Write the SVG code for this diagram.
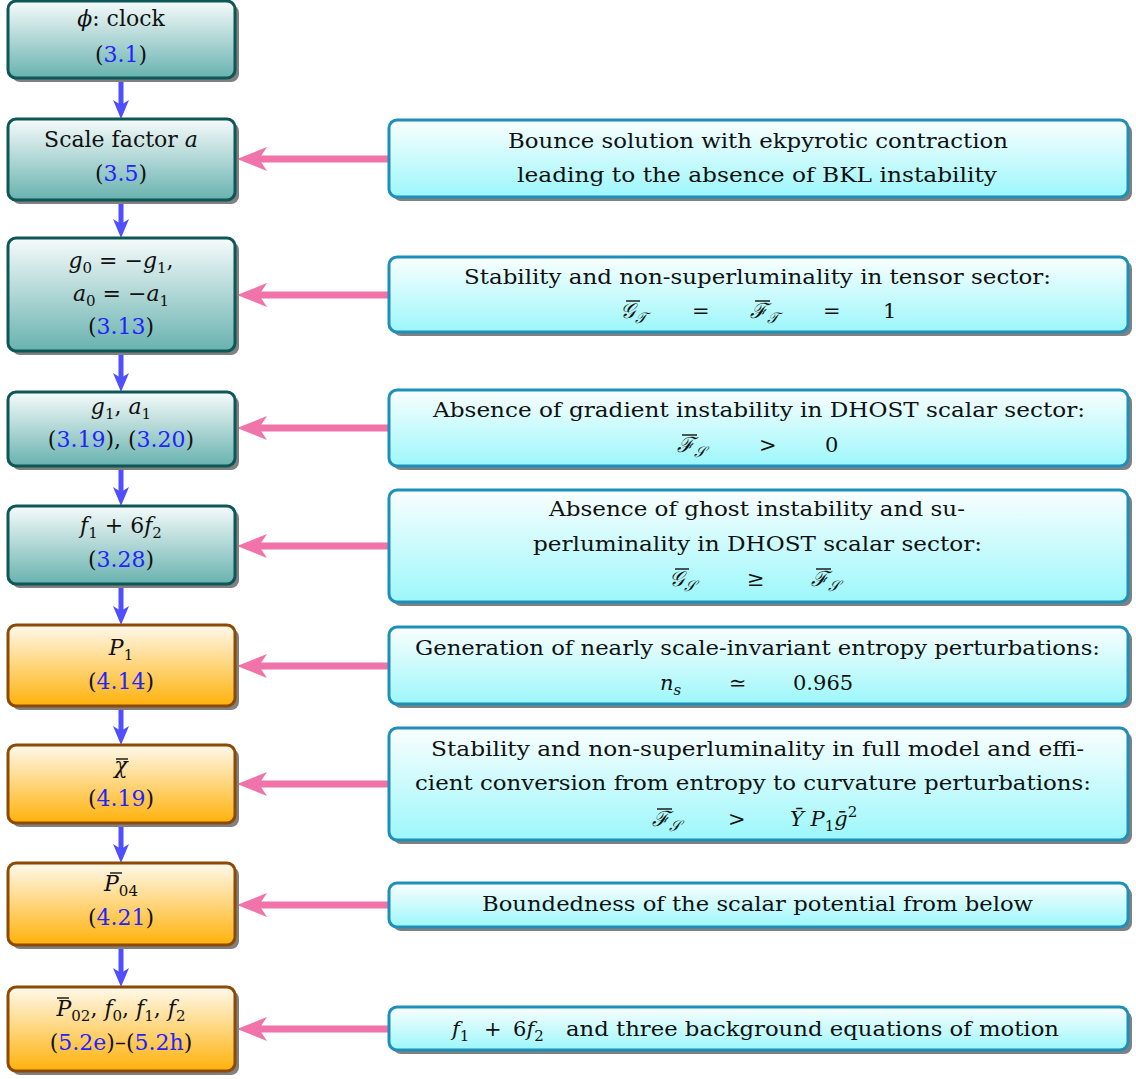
<svg xmlns="http://www.w3.org/2000/svg" width="1136" height="1079" viewBox="0 0 1136 1079">
<style>
text{font-family:"DejaVu Serif",serif;font-size:21px;fill:#111;}
.c{text-anchor:middle;font-size:22px;}
.i{font-style:italic;}
.s{font-size:15px;}
.ref{fill:#2323ff;}
.sh{fill:#808080;}
.lt{fill:url(#gTeal);stroke:#0e5757;stroke-width:3;}
.lo{fill:url(#gOrange);stroke:#8c4a05;stroke-width:3;}
.rb{fill:url(#gCyan);stroke:#1d8fb8;stroke-width:3;}
.blue{stroke:#4f4fff;stroke-width:5;fill:none;}
.pink{stroke:#f073aa;stroke-width:7;fill:none;}
.bar{stroke:#111;stroke-width:1.4;}
</style>
<defs>
<linearGradient id="gTeal" x1="0" y1="0" x2="0" y2="1"><stop offset="0" stop-color="#f6fbfb"/><stop offset="1" stop-color="#68b2af"/></linearGradient>
<linearGradient id="gOrange" x1="0" y1="0" x2="0" y2="1"><stop offset="0" stop-color="#fff9ec"/><stop offset="1" stop-color="#ffb10a"/></linearGradient>
<linearGradient id="gCyan" x1="0" y1="0" x2="0" y2="1"><stop offset="0" stop-color="#fafefe"/><stop offset="1" stop-color="#9cf7fb"/></linearGradient>
<marker id="mb" markerUnits="userSpaceOnUse" markerWidth="22" markerHeight="20" viewBox="0 -10 22 20" refX="6" refY="0" orient="auto"><path d="M19,0 L0,-8 L5,0 L0,8 Z" fill="#4f4fff"/></marker>
<marker id="mp" markerUnits="userSpaceOnUse" markerWidth="32" markerHeight="28" viewBox="0 -14 32 28" refX="10" refY="0" orient="auto"><path d="M30,0 L0,-12 L8,0 L0,12 Z" fill="#f073aa"/></marker>
</defs>

<g id="connectors">
<path class="blue" d="M121,78 V106" marker-end="url(#mb)"/>
<path class="blue" d="M121,200 V225" marker-end="url(#mb)"/>
<path class="blue" d="M121,351 V379" marker-end="url(#mb)"/>
<path class="blue" d="M121,466 V493" marker-end="url(#mb)"/>
<path class="blue" d="M121,584 V612" marker-end="url(#mb)"/>
<path class="blue" d="M121,706 V732" marker-end="url(#mb)"/>
<path class="blue" d="M121,823 V850" marker-end="url(#mb)"/>
<path class="blue" d="M121,945 V974" marker-end="url(#mb)"/>
<path class="pink" d="M389,159 H257" marker-end="url(#mp)"/>
<path class="pink" d="M389,295 H257" marker-end="url(#mp)"/>
<path class="pink" d="M389,428 H257" marker-end="url(#mp)"/>
<path class="pink" d="M389,546 H257" marker-end="url(#mp)"/>
<path class="pink" d="M389,666 H257" marker-end="url(#mp)"/>
<path class="pink" d="M389,784 H257" marker-end="url(#mp)"/>
<path class="pink" d="M389,905 H257" marker-end="url(#mp)"/>
<path class="pink" d="M389,1029 H257" marker-end="url(#mp)"/>
</g>

<g id="n1"><rect class="sh" x="12" y="5" width="227" height="77" rx="8"/><rect class="lt" x="8" y="1" width="227" height="77" rx="8"/>
<text class="c" x="121" y="26"><tspan class="i">ϕ</tspan>:  clock</text>
<text class="c" x="121" y="62">(<tspan class="ref">3.1</tspan>)</text></g>

<g id="n2"><rect class="sh" x="12" y="123" width="227" height="81" rx="8"/><rect class="lt" x="8" y="119" width="227" height="81" rx="8"/>
<text class="c" x="121" y="147">Scale factor <tspan class="i">a</tspan></text>
<text class="c" x="121" y="181">(<tspan class="ref">3.5</tspan>)</text></g>

<g id="n3"><rect class="sh" x="12" y="242" width="227" height="113" rx="8"/><rect class="lt" x="8" y="238" width="227" height="113" rx="8"/>
<text class="c" x="121" y="268"><tspan class="i">g</tspan><tspan class="s" dy="5">0</tspan><tspan dy="-5">  =  −</tspan><tspan class="i">g</tspan><tspan class="s" dy="5">1</tspan><tspan dy="-5">,</tspan></text>
<text class="c" x="121" y="301"><tspan class="i">a</tspan><tspan class="s" dy="5">0</tspan><tspan dy="-5">  =  −</tspan><tspan class="i">a</tspan><tspan class="s" dy="5">1</tspan></text>
<text class="c" x="121" y="334">(<tspan class="ref">3.13</tspan>)</text></g>

<g id="n4"><rect class="sh" x="12" y="396" width="227" height="74" rx="8"/><rect class="lt" x="8" y="392" width="227" height="74" rx="8"/>
<text class="c" x="121" y="414"><tspan class="i">g</tspan><tspan class="s" dy="5">1</tspan><tspan dy="-5">, </tspan><tspan class="i">a</tspan><tspan class="s" dy="5">1</tspan></text>
<text class="c" x="121" y="447">(<tspan class="ref">3.19</tspan>), (<tspan class="ref">3.20</tspan>)</text></g>

<g id="n5"><rect class="sh" x="12" y="510" width="227" height="78" rx="8"/><rect class="lt" x="8" y="506" width="227" height="78" rx="8"/>
<text class="c" x="121" y="533"><tspan class="i">f</tspan><tspan class="s" dy="5">1</tspan><tspan dy="-5"> + 6</tspan><tspan class="i">f</tspan><tspan class="s" dy="5">2</tspan></text>
<text class="c" x="121" y="567">(<tspan class="ref">3.28</tspan>)</text></g>

<g id="n6"><rect class="sh" x="12" y="629" width="227" height="81" rx="8"/><rect class="lo" x="8" y="625" width="227" height="81" rx="8"/>
<text class="c" x="121" y="655"><tspan class="i">P</tspan><tspan class="s" dy="5">1</tspan></text>
<text class="c" x="121" y="689">(<tspan class="ref">4.14</tspan>)</text></g>

<g id="n7"><rect class="sh" x="12" y="749" width="227" height="78" rx="8"/><rect class="lo" x="8" y="745" width="227" height="78" rx="8"/>
<text class="c i" x="121" y="773">χ</text>
<line class="bar" x1="116" y1="759" x2="128" y2="759"/>
<text class="c" x="121" y="806">(<tspan class="ref">4.19</tspan>)</text></g>

<g id="n8"><rect class="sh" x="12" y="867" width="227" height="82" rx="8"/><rect class="lo" x="8" y="863" width="227" height="82" rx="8"/>
<text class="c" x="121" y="891"><tspan class="i">P</tspan><tspan class="s" dy="5">04</tspan></text>
<line class="bar" x1="110" y1="873" x2="122" y2="873"/>
<text class="c" x="121" y="925">(<tspan class="ref">4.21</tspan>)</text></g>

<g id="n9"><rect class="sh" x="12" y="991" width="227" height="84" rx="8"/><rect class="lo" x="8" y="987" width="227" height="84" rx="8"/>
<text class="c" x="121" y="1016"><tspan class="i">P</tspan><tspan class="s" dy="5">02</tspan><tspan dy="-5">, </tspan><tspan class="i">f</tspan><tspan class="s" dy="5">0</tspan><tspan dy="-5">, </tspan><tspan class="i">f</tspan><tspan class="s" dy="5">1</tspan><tspan dy="-5">, </tspan><tspan class="i">f</tspan><tspan class="s" dy="5">2</tspan></text>
<line class="bar" x1="57" y1="998" x2="69" y2="998"/>
<text class="c" x="121" y="1050">(<tspan class="ref">5.2e</tspan>)–(<tspan class="ref">5.2h</tspan>)</text></g>

<g id="r1"><rect class="sh" x="393" y="124" width="739" height="77" rx="8"/><rect class="rb" x="389" y="120" width="739" height="77" rx="8"/>
<text x="508" y="148" textLength="500" lengthAdjust="spacingAndGlyphs">Bounce solution with ekpyrotic contraction</text>
<text x="517" y="182" textLength="480" lengthAdjust="spacingAndGlyphs">leading to the absence of BKL instability</text></g>

<g id="r2"><rect class="sh" x="393" y="261" width="739" height="75" rx="8"/><rect class="rb" x="389" y="257" width="739" height="75" rx="8"/>
<text x="464" y="284" textLength="587" lengthAdjust="spacingAndGlyphs">Stability and non-superluminality in tensor sector:</text>
<text x="620" y="318" class="i">𝒢<tspan class="s" dy="5">𝒯</tspan></text>
<line class="bar" x1="626" y1="301" x2="640" y2="301"/>
<text x="692" y="318">=</text>
<text x="750" y="318" class="i">ℱ<tspan class="s" dy="5">𝒯</tspan></text>
<line class="bar" x1="755" y1="301" x2="770" y2="301"/>
<text x="823" y="318">=</text>
<text x="883" y="318">1</text></g>

<g id="r3"><rect class="sh" x="393" y="394" width="739" height="76" rx="8"/><rect class="rb" x="389" y="390" width="739" height="76" rx="8"/>
<text x="433" y="417" textLength="652" lengthAdjust="spacingAndGlyphs">Absence of gradient instability in DHOST scalar sector:</text>
<text x="677" y="452" class="i">ℱ<tspan class="s" dy="5">𝒮</tspan></text>
<line class="bar" x1="682" y1="435" x2="697" y2="435"/>
<text x="759" y="452">&gt;</text>
<text x="825" y="452">0</text></g>

<g id="r4"><rect class="sh" x="393" y="494" width="739" height="112" rx="8"/><rect class="rb" x="389" y="490" width="739" height="112" rx="8"/>
<text x="549" y="516" textLength="416" lengthAdjust="spacingAndGlyphs">Absence of ghost instability and su-</text>
<text x="533" y="551" textLength="449" lengthAdjust="spacingAndGlyphs">perluminality in DHOST scalar sector:</text>
<text x="669" y="586" class="i">𝒢<tspan class="s" dy="5">𝒮</tspan></text>
<line class="bar" x1="675" y1="569" x2="689" y2="569"/>
<text x="747" y="586">≥</text>
<text x="811" y="586" class="i">ℱ<tspan class="s" dy="5">𝒮</tspan></text>
<line class="bar" x1="816" y1="569" x2="831" y2="569"/></g>

<g id="r5"><rect class="sh" x="393" y="631" width="739" height="77" rx="8"/><rect class="rb" x="389" y="627" width="739" height="77" rx="8"/>
<text x="415" y="655" textLength="685" lengthAdjust="spacingAndGlyphs">Generation of nearly scale-invariant entropy perturbations:</text>
<text x="660" y="690" class="i">n<tspan class="s" dy="5">s</tspan></text>
<text x="729" y="690">≃</text>
<text x="793" y="690">0.965</text></g>

<g id="r6"><rect class="sh" x="393" y="732" width="739" height="112" rx="8"/><rect class="rb" x="389" y="728" width="739" height="112" rx="8"/>
<text x="431" y="756" textLength="653" lengthAdjust="spacingAndGlyphs">Stability and non-superluminality in full model and effi-</text>
<text x="415" y="790" textLength="676" lengthAdjust="spacingAndGlyphs">cient conversion from entropy to curvature perturbations:</text>
<text x="652" y="826" class="i">ℱ<tspan class="s" dy="5">𝒮</tspan></text>
<line class="bar" x1="657" y1="809" x2="672" y2="809"/>
<text x="728" y="826">&gt;</text>
<text x="790" y="826"><tspan class="i">Ȳ P</tspan><tspan class="s" dy="5">1</tspan><tspan class="i" dy="-5">ḡ</tspan><tspan class="s" dy="-9">2</tspan></text></g>

<g id="r7"><rect class="sh" x="393" y="887" width="739" height="44" rx="8"/><rect class="rb" x="389" y="883" width="739" height="44" rx="8"/>
<text x="482" y="911" textLength="551" lengthAdjust="spacingAndGlyphs">Boundedness of the scalar potential from below</text></g>

<g id="r8"><rect class="sh" x="393" y="1011" width="739" height="43" rx="8"/><rect class="rb" x="389" y="1007" width="739" height="43" rx="8"/>
<text x="452" y="1036"><tspan class="i">f</tspan><tspan class="s" dy="5">1</tspan><tspan dy="-5" x="484">+</tspan><tspan x="513">6</tspan><tspan class="i">f</tspan><tspan class="s" dy="5">2</tspan><tspan dy="-5" x="566" textLength="493" lengthAdjust="spacingAndGlyphs">and three background equations of motion</tspan></text></g>
</svg>
